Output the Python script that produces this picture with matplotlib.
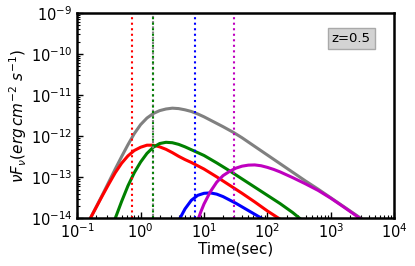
import numpy as np
import matplotlib
matplotlib.use("Agg")
import matplotlib.pyplot as plt

# values, as log10(time [s]), log10(flux)
red_logt = [-0.80, -0.70, -0.60, -0.50, -0.40, -0.30, -0.20, -0.10, 0.00, 0.10, 0.20, 0.30,
            0.40, 0.50, 0.60, 0.70, 0.80, 0.90, 1.00, 1.20, 1.40, 1.60, 1.80, 2.00, 2.18]
red_logf = [-14.02, -13.73, -13.44, -13.16, -12.89, -12.66, -12.48, -12.35, -12.27, -12.22, -12.22, -12.26,
            -12.32, -12.40, -12.49, -12.57, -12.64, -12.72, -12.80, -12.99, -13.19, -13.39, -13.60, -13.82, -14.0]

gray_logt = [-0.80, -0.70, -0.60, -0.50, -0.40, -0.30, -0.20, -0.10, 0.00, 0.10, 0.20, 0.30, 0.40,
             0.50, 0.60, 0.70, 0.80, 0.90, 1.00, 1.10, 1.20, 1.30, 1.465, 1.60, 1.80, 2.00, 2.20,
             2.40, 2.60, 2.80, 3.00, 3.20, 3.475]
gray_logf = [-14.02, -13.72, -13.42, -13.11, -12.80, -12.50, -12.21, -11.94, -11.72, -11.56, -11.45, -11.38, -11.34,
             -11.32, -11.33, -11.36, -11.40, -11.46, -11.53, -11.61, -11.69, -11.77, -11.91, -12.04, -12.25, -12.46, -12.67,
             -12.88, -13.09, -13.29, -13.50, -13.71, -14.0]

green_logt = [-0.40, -0.30, -0.20, -0.10, 0.00, 0.10, 0.20, 0.30, 0.40, 0.50, 0.60, 0.70, 0.80,
              0.90, 1.00, 1.20, 1.40, 1.60, 1.80, 2.00, 2.20, 2.40, 2.51]
green_logf = [-14.0, -13.59, -13.21, -12.89, -12.63, -12.42, -12.27, -12.18, -12.15, -12.16, -12.20, -12.26, -12.33,
              -12.40, -12.47, -12.65, -12.84, -13.04, -13.24, -13.44, -13.64, -13.86, -14.0]

blue_logt = [0.62, 0.70, 0.80, 0.90, 1.00, 1.10, 1.20, 1.30, 1.40, 1.50, 1.60, 1.70, 1.80, 1.91]
blue_logf = [-14.0, -13.77, -13.56, -13.44, -13.39, -13.38, -13.41, -13.47, -13.55, -13.63, -13.72, -13.81, -13.90, -14.0]

mag_logt = [0.913, 0.95, 1.00, 1.10, 1.20, 1.30, 1.40, 1.50, 1.60, 1.70, 1.80, 1.90, 2.00, 2.10,
            2.20, 2.40, 2.60, 2.80, 3.00, 3.20, 3.46]
mag_logf = [-14.0, -13.84, -13.65, -13.35, -13.12, -12.96, -12.86, -12.78, -12.73, -12.705, -12.70, -12.72, -12.76, -12.81,
            -12.87, -13.01, -13.16, -13.32, -13.51, -13.72, -14.0]

vline_red = 0.74
vline_green = 1.58
vline_blue = 7.2
vline_mag = 29.5

fig = plt.figure(figsize=(4.15, 2.66), dpi=100)
ax = fig.add_axes([0.186, 0.179, 0.764, 0.773])

lw = 2.2
ax.plot(10**np.array(gray_logt), 10**np.array(gray_logf), color='gray', lw=lw)
ax.plot(10**np.array(red_logt), 10**np.array(red_logf), color='red', lw=lw)
ax.plot(10**np.array(green_logt), 10**np.array(green_logf), color='green', lw=lw)
ax.plot(10**np.array(blue_logt), 10**np.array(blue_logf), color='blue', lw=lw)
ax.plot(10**np.array(mag_logt), 10**np.array(mag_logf), color='m', lw=lw)

ax.axvline(vline_red, color='red', ls=':', lw=1.5)
ax.axvline(vline_green, color='gray', ls=(1.5, (1, 1.5)), lw=1.5)
ax.axvline(vline_green, color='green', ls=':', lw=1.5)
ax.axvline(vline_blue, color='blue', ls=':', lw=1.5)
ax.axvline(vline_mag, color='m', ls=':', lw=1.5)

ax.set_xscale('log')
ax.set_yscale('log')
ax.set_xlim(1e-1, 1e4)
ax.set_ylim(1e-14, 1e-9)

ax.tick_params(axis='both', which='both', direction='in', labelsize=10.5)
ax.tick_params(axis='both', which='major', length=4, width=1)
ax.tick_params(axis='both', which='minor', length=2, width=0.8)
ax.tick_params(axis='x', which='major', pad=3)
for s in ax.spines.values():
    s.set_linewidth(1.8)

ax.set_xlabel('Time(sec)', fontsize=11, labelpad=0)
ax.set_ylabel(r'$\nu F_\nu (erg\, cm^{-2}\ s^{-1})$', fontsize=11, labelpad=1)

ax.text(0.864, 0.877, 'z=0.5', transform=ax.transAxes, ha='center', va='center',
        fontsize=9.5,
        bbox=dict(boxstyle='square,pad=0.3', fc='lightgray', ec='darkgray', lw=1))

fig.savefig('out.png', dpi=100)
